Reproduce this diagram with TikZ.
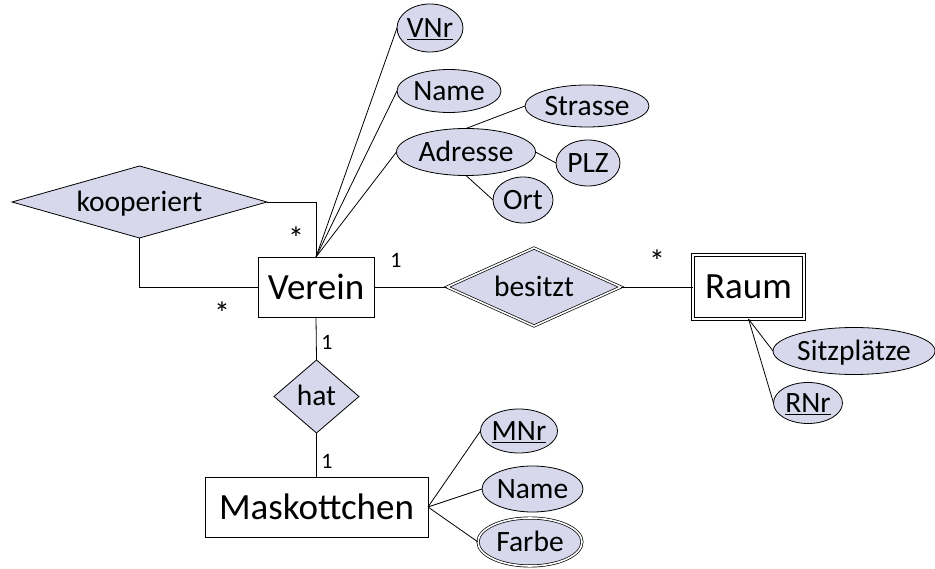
\documentclass[tikz,border=0pt]{standalone}
\usepackage{fontspec}
\setmainfont{Carlito}
\usetikzlibrary{shapes.geometric}
\definecolor{erfill}{RGB}{216,216,236}
\tikzset{
  every node/.style={inner sep=0pt, outer sep=0pt},
  conn/.style={draw=black, line width=0.8pt},
  entity/.style={draw=black, line width=0.8pt, fill=white, rectangle, font=\fontsize{37}{40}\selectfont},
  weakentity/.style={entity, double, double distance=2pt, line width=0.7pt},
  rel/.style={draw=black, line width=0.8pt, fill=erfill, diamond, font=\fontsize{29.5}{32}\selectfont, text height=19pt, text depth=0pt},
  weakrel/.style={rel, double, double distance=1.6pt, line width=0.7pt},
  attr/.style={draw=black, line width=0.8pt, fill=erfill, ellipse, font=\fontsize{29.5}{32}\selectfont, text height=19pt, text depth=0pt},
  multiattr/.style={attr, double, double distance=1.6pt, line width=0.7pt},
  card/.style={font=\fontsize{22}{24}\selectfont},
  star/.style={font=\fontsize{32}{34}\selectfont}
}
\begin{document}
\begin{tikzpicture}[x=1pt,y=-1pt]
\useasboundingbox (0,0) rectangle (935,569);
% entities
\node[entity, minimum width=116pt, minimum height=60pt] (verein) at (316,287) {Verein};
\node[weakentity, minimum width=111pt, minimum height=64pt] (raum) at (748.5,287) {Raum};
\node[entity, minimum width=223pt, minimum height=60pt] (mask) at (316.5,507) {Maskottchen};
% relationships
\node[rel, shape aspect=3.5, minimum width=255pt, minimum height=72pt] (koop) at (139.5,202) {kooperiert};
\node[weakrel, shape aspect=2.2, minimum width=174pt, minimum height=78pt] (besitzt) at (534,287) {besitzt};
\node[rel, shape aspect=1.16, minimum width=85pt, minimum height=73pt] (hat) at (316.5,396.5) {hat};
% attributes of Verein
\node[attr, minimum width=66pt, minimum height=48pt] (vnr) at (430,28) {\underline{VNr}};
\node[attr, minimum width=104pt, minimum height=43pt] (vname) at (449,91) {Name};
\node[attr, minimum width=139pt, minimum height=47pt] (adresse) at (466,152) {Adresse};
\node[attr, minimum width=124pt, minimum height=42pt] (strasse) at (587,106) {Strasse};
\node[attr, minimum width=64pt, minimum height=46pt] (plz) at (588,163) {PLZ};
\node[attr, minimum width=60pt, minimum height=46pt] (ort) at (523,200) {Ort};
% attributes of Raum
\node[attr, minimum width=162pt, minimum height=47pt] (sitz) at (854,351) {Sitzplätze};
\node[attr, minimum width=69pt, minimum height=41pt] (rnr) at (808,403) {\underline{RNr}};
% attributes of Maskottchen
\node[attr, minimum width=76pt, minimum height=44pt] (mnr) at (519,431) {\underline{MNr}};
\node[attr, minimum width=101pt, minimum height=46pt] (mname) at (532.5,489) {Name};
\node[multiattr, minimum width=104pt, minimum height=48pt] (farbe) at (530,542) {Farbe};
% connectors
\draw[conn] (koop.east) -| (verein.north);
\draw[conn] (koop.south) |- (verein.west);
\draw[conn] (verein.east) -- (besitzt.west);
\draw[conn] (besitzt.east) -- (raum.west);
\draw[conn] (verein.south) -- (hat.north);
\draw[conn] (hat.south) -- (mask.north);
\draw[conn] (verein.north) -- (vnr.west);
\draw[conn] (verein.north) -- (vname.west);
\draw[conn] (verein.north) -- (adresse.west);
\draw[conn] (adresse.north) -- (strasse.west);
\draw[conn] (adresse.east) -- (plz.west);
\draw[conn] (adresse.south) -- (ort.west);
\draw[conn] (raum.south) -- (sitz.west);
\draw[conn] (raum.south) -- (rnr.west);
\draw[conn] (mask.east) -- (mnr.west);
\draw[conn] (mask.east) -- (mname.west);
\draw[conn] (mask.east) -- (farbe.west);
% cardinalities
\node[star] (c1) at (296,238) {*};
\node[star] (c2) at (222,313) {*};
\node[card] (c3) at (396,260) {1};
\node[star] (c4) at (657,261) {*};
\node[card] (c5) at (327,342) {1};
\node[card] (c6) at (327,461) {1};
\end{tikzpicture}
\end{document}
